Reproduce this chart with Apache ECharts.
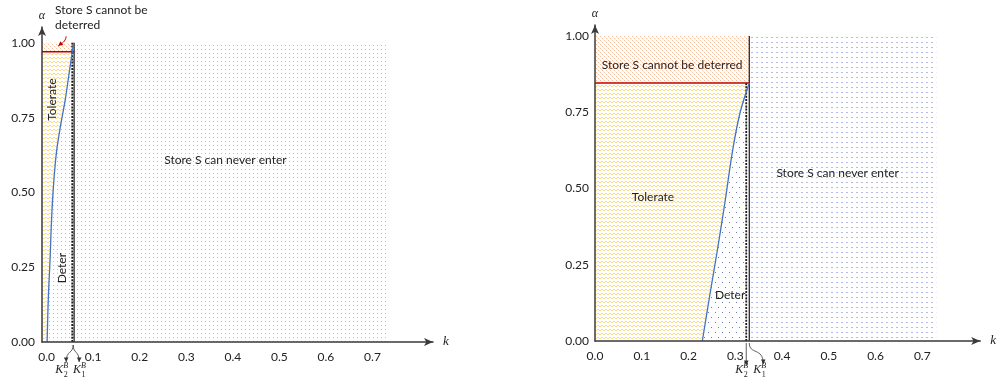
<!DOCTYPE html>
<html><head><meta charset="utf-8">
<script src="https://cdn.jsdelivr.net/npm/echarts@6/dist/echarts.min.js"></script>
<style>html,body{margin:0;padding:0;background:#fff}#c{width:999px;height:386px}</style>
</head><body><div id="c"></div>
<script>
// ---------- data ----------
const xTickValues = [0, 0.1, 0.2, 0.3, 0.4, 0.5, 0.6, 0.7];
const yTickValues = [0, 0.25, 0.5, 0.75, 1.0];
const regionKMax = 0.73;
const regionAlphaMax = 1.0;

const leftXMin = -0.01, leftXMax = 0.83, leftYMax = 1.053;
const leftK1 = 0.059;
const leftK2 = 0.055;
const leftK2TopAlpha = 1.0;
const leftRedAlpha = 0.97;
const leftCurveAlpha = [0, 0.05, 0.12, 0.2, 0.27, 0.37, 0.47, 0.56, 0.64, 0.72, 0.81, 0.89, 0.97, 1.0];
const leftCurveK     = [0.001, 0.0018, 0.003, 0.005, 0.0072, 0.0095, 0.0125, 0.0165, 0.0215, 0.0295, 0.040, 0.0475, 0.055, 0.058];

const rightXMin = 0, rightXMax = 0.824, rightYMax = 1.036;
const rightK1 = 0.330;
const rightK2 = 0.3235;
const rightK2TopAlpha = 0.846;
const rightRedAlpha = 0.846;
const rightCurveAlpha = [0, 0.15, 0.30, 0.45, 0.626, 0.75, 0.846];
const rightCurveK     = [0.2296, 0.2455, 0.262, 0.2775, 0.2945, 0.3105, 0.330];

const regionNames = {
  never: 'Store S can never enter',
  tolerate: 'Tolerate',
  deter: 'Deter',
  undeterred: 'Store S cannot be deterred'
};

// ---------- patterns ----------
function pattern(w, h, draw) {
  const c = document.createElement('canvas');
  c.width = w; c.height = h;
  const ctx = c.getContext('2d');
  draw(ctx);
  return { image: c, repeat: 'repeat' };
}
const pat = {
  tolerate: pattern(4, 4, ctx => {
    ctx.strokeStyle = '#fad67a'; ctx.lineWidth = 0.9;
    ctx.beginPath(); ctx.moveTo(0, 3); ctx.lineTo(2, 1); ctx.lineTo(4, 3); ctx.stroke();
  }),
  orange: pattern(4, 4, ctx => {
    ctx.fillStyle = '#f6bf9c';
    ctx.fillRect(0, 0, 1, 1); ctx.fillRect(2, 2, 1, 1);
    ctx.fillStyle = 'rgba(250,215,190,0.6)';
    ctx.fillRect(1, 1, 1, 1); ctx.fillRect(3, 3, 1, 1);
  }),
  leftDots: pattern(4, 4, ctx => {
    ctx.fillStyle = '#b0bde0'; ctx.fillRect(1, 1, 1, 1);
  }),
  rightDeter: pattern(7, 10, ctx => {
    ctx.fillStyle = '#5f80c9'; ctx.fillRect(1, 2, 1, 1); ctx.fillRect(4, 7, 1, 1);
  }),
  rightNever: pattern(5, 5, ctx => {
    ctx.fillStyle = '#b4bbe6'; ctx.fillRect(1, 2, 2, 1);
  })
};

const FONT = 'Lato';
const panels = [
  {
    xMin: leftXMin, K1: leftK1, K2: leftK2, K2Top: leftK2TopAlpha, red: leftRedAlpha,
    curveK: leftCurveK, curveA: leftCurveAlpha,
    fills: { never: pat.leftDots, tolerate: pat.tolerate, deter: pat.leftDots, undeterred: pat.orange },
    texts: [
      { t: regionNames.never, k: 0.384, a: 0.609 },
      { t: regionNames.tolerate, k: 0.012, a: 0.81, rot: true },
      { t: regionNames.deter, k: 0.033, a: 0.247, rot: true },
      { t: 'Store S cannot be', k: 0.018, a: 1.11, left: true },
      { t: 'deterred', k: 0.018, a: 1.06, left: true }
    ],
    redArrow: { from: [0.042, 1.022], to: [0.025, 0.99] },
    kStyle: 'left'
  },
  {
    xMin: rightXMin, K1: rightK1, K2: rightK2, K2Top: rightK2TopAlpha, red: rightRedAlpha,
    curveK: rightCurveK, curveA: rightCurveAlpha,
    fills: { never: pat.rightNever, tolerate: pat.tolerate, deter: pat.rightDeter, undeterred: pat.orange },
    texts: [
      { t: regionNames.undeterred, k: 0.165, a: 0.905 },
      { t: regionNames.tolerate, k: 0.124, a: 0.472 },
      { t: regionNames.deter, k: 0.289, a: 0.151 },
      { t: regionNames.never, k: 0.519, a: 0.551 }
    ],
    kStyle: 'right'
  }
];

function arrowHead(ex, ey, dx, dy, color) {
  const len = Math.hypot(dx, dy) || 1;
  const ux = dx / len, uy = dy / len;
  const s = 4.5, w = 2.3;
  return {
    type: 'polygon',
    shape: { points: [[ex, ey], [ex - ux * s - uy * w, ey - uy * s + ux * w], [ex - ux * s + uy * w, ey - uy * s - ux * w]] },
    style: { fill: color }
  };
}

function kLabel(x, y, sub) {
  return [
    { type: 'text', x: x, y: y, style: { text: 'K', fill: '#222', fontSize: 12, fontStyle: 'italic', fontFamily: 'Liberation Serif', align: 'left', verticalAlign: 'middle' } },
    { type: 'text', x: x + 8, y: y - 4, style: { text: 'B', fill: '#222', fontSize: 8, fontStyle: 'italic', fontFamily: 'Liberation Serif', align: 'left', verticalAlign: 'middle' } },
    { type: 'text', x: x + 8.5, y: y + 4.5, style: { text: sub, fill: '#222', fontSize: 8, fontFamily: 'Liberation Serif', align: 'left', verticalAlign: 'middle' } }
  ];
}

function makeRender(p) {
  return function (params, api) {
    const c = (k, a) => api.coord([k, a]);
    const under = p.curveA.map((a, i) => [p.curveK[i], a]).filter(q => q[1] <= p.red + 1e-9);
    const poly = (pts, fill) => ({ type: 'polygon', shape: { points: pts.map(q => c(q[0], q[1])) }, style: { fill: fill } });
    const line = (a, b, style) => { const A = c(a[0], a[1]), B = c(b[0], b[1]); return { type: 'line', shape: { x1: A[0], y1: A[1], x2: B[0], y2: B[1] }, style: style }; };
    const ch = [];
    ch.push(poly([[p.K1, 0], [regionKMax, 0], [regionKMax, regionAlphaMax], [p.K1, regionAlphaMax]], p.fills.never));
    ch.push(poly([[p.xMin, 0]].concat(under, [[p.xMin, p.red]]), p.fills.tolerate));
    ch.push(poly(under.concat([[p.K1, p.red], [p.K1, 0]]), p.fills.deter));
    ch.push(poly([[p.xMin, p.red], [p.K1, p.red], [p.K1, regionAlphaMax], [p.xMin, regionAlphaMax]], p.fills.undeterred));
    // lines
    ch.push(line([p.K2, 0], [p.K2, p.K2Top], { stroke: '#1a1a1a', lineWidth: 1.8, lineDash: [2, 1.2] }));
    ch.push(line([p.K1, 0], [p.K1, regionAlphaMax], { stroke: '#1a1a1a', lineWidth: 1.2 }));
    ch.push(line([p.xMin, p.red], [p.K1, p.red], { stroke: '#c00000', lineWidth: 1.5 }));
    ch.push({ type: 'polyline', shape: { points: p.curveA.map((a, i) => c(p.curveK[i], a)), smooth: 0.3 }, style: { stroke: '#4472c4', lineWidth: 1.3, fill: 'none' } });
    // texts
    p.texts.forEach(t => {
      const P = c(t.k, t.a);
      ch.push({ type: 'text', x: P[0], y: P[1], rotation: t.rot ? Math.PI / 2 : 0,
        style: { text: t.t, fill: '#222', fontSize: 12, fontFamily: FONT, align: t.left ? 'left' : 'center', verticalAlign: 'middle' } });
    });
    // red arrow
    if (p.redArrow) {
      const A = c(p.redArrow.from[0], p.redArrow.from[1]), B = c(p.redArrow.to[0], p.redArrow.to[1]);
      ch.push({ type: 'bezierCurve', shape: { x1: A[0], y1: A[1], x2: B[0], y2: B[1], cpx1: A[0] - 1, cpy1: A[1] + 6, cpx2: B[0] + 4, cpy2: B[1] - 3 }, style: { stroke: '#c00000', lineWidth: 1, fill: 'none' } });
      ch.push(arrowHead(B[0], B[1], -4, 3, '#c00000'));
    }
    // K labels with arrows
    const b1 = c(p.K1, 0), b2 = c(p.K2, 0);
    const ac = '#333';
    if (p.kStyle === 'left') {
      const mx = (b1[0] + b2[0]) / 2, y0 = b1[1] + 3;
      const L = mx - 7, R = mx + 6, ey = y0 + 17;
      ch.push({ type: 'bezierCurve', shape: { x1: mx, y1: y0, cpx1: mx, cpy1: y0 + 9, cpx2: L, cpy2: y0 + 5, x2: L, y2: ey }, style: { stroke: ac, lineWidth: 0.8, fill: 'none' } });
      ch.push({ type: 'bezierCurve', shape: { x1: mx, y1: y0, cpx1: mx, cpy1: y0 + 9, cpx2: R, cpy2: y0 + 5, x2: R, y2: ey }, style: { stroke: ac, lineWidth: 0.8, fill: 'none' } });
      ch.push(arrowHead(L, ey, 0, 1, ac));
      ch.push(arrowHead(R, ey, 0, 1, ac));
      kLabel(b2[0] - 17, b1[1] + 28, '2').forEach(e => ch.push(e));
      kLabel(b1[0] - 1, b1[1] + 28, '1').forEach(e => ch.push(e));
    } else {
      const y0 = b1[1] + 2;
      ch.push({ type: 'line', shape: { x1: b2[0], y1: y0, x2: b2[0], y2: y0 + 22 }, style: { stroke: ac, lineWidth: 0.8 } });
      ch.push(arrowHead(b2[0], y0 + 22, 0, 1, ac));
      const R = b1[0] + 14, ey = y0 + 21;
      ch.push({ type: 'bezierCurve', shape: { x1: b1[0], y1: y0, cpx1: b1[0], cpy1: y0 + 12, cpx2: R, cpy2: y0 + 4, x2: R, y2: ey }, style: { stroke: ac, lineWidth: 0.8, fill: 'none' } });
      ch.push(arrowHead(R, ey, 0, 1, ac));
      kLabel(b2[0] - 11, b1[1] + 29, '2').forEach(e => ch.push(e));
      kLabel(b1[0] + 4, b1[1] + 29, '1').forEach(e => ch.push(e));
    }
    return { type: 'group', children: ch };
  };
}

function xAxisCfg(gi, min, max) {
  return {
    gridIndex: gi, type: 'value', min: min, max: max, z: 10,
    axisLine: { show: true, onZero: false, symbol: ['none', 'arrow'], symbolSize: [6, 9], lineStyle: { color: '#3a3a3a', width: 1.5 } },
    axisTick: { show: false }, splitLine: { show: false },
    axisLabel: { customValues: xTickValues, formatter: v => v.toFixed(1), margin: 9, color: '#222', fontSize: 12, fontFamily: FONT },
    name: 'k', nameLocation: 'end', nameGap: 10,
    nameTextStyle: { fontStyle: 'italic', fontFamily: 'Liberation Serif', fontSize: 13, color: '#222', align: 'left', verticalAlign: 'middle' }
  };
}
function yAxisCfg(gi, max, margin) {
  return {
    gridIndex: gi, type: 'value', min: 0, max: max, z: 10,
    axisLine: { show: true, onZero: false, symbol: ['none', 'arrow'], symbolSize: [6, 9], lineStyle: { color: '#3a3a3a', width: 1.5 } },
    axisTick: { show: false }, splitLine: { show: false },
    axisLabel: { customValues: yTickValues, formatter: v => v.toFixed(2), margin: margin, color: '#222', fontSize: 12, fontFamily: FONT },
    name: 'α', nameLocation: 'end', nameGap: 5,
    nameTextStyle: { fontStyle: 'italic', fontFamily: 'Liberation Serif', fontSize: 12, color: '#222', align: 'center' }
  };
}

const chart = echarts.init(document.getElementById('c'));
chart.setOption({
  animation: false,
  backgroundColor: '#fff',
  grid: [
    { left: 42, top: 27, width: 391, height: 315 },
    { left: 595, top: 25, width: 392, height: 316 }
  ],
  xAxis: [xAxisCfg(0, leftXMin, leftXMax), xAxisCfg(1, rightXMin, rightXMax)],
  yAxis: [yAxisCfg(0, leftYMax, 7), yAxisCfg(1, rightYMax, 6)],
  series: panels.map((p, i) => ({
    type: 'custom', xAxisIndex: i, yAxisIndex: i, data: [[0, 0]], silent: true, clip: false, z: 2,
    renderItem: makeRender(p)
  }))
});
</script>
</body></html>
